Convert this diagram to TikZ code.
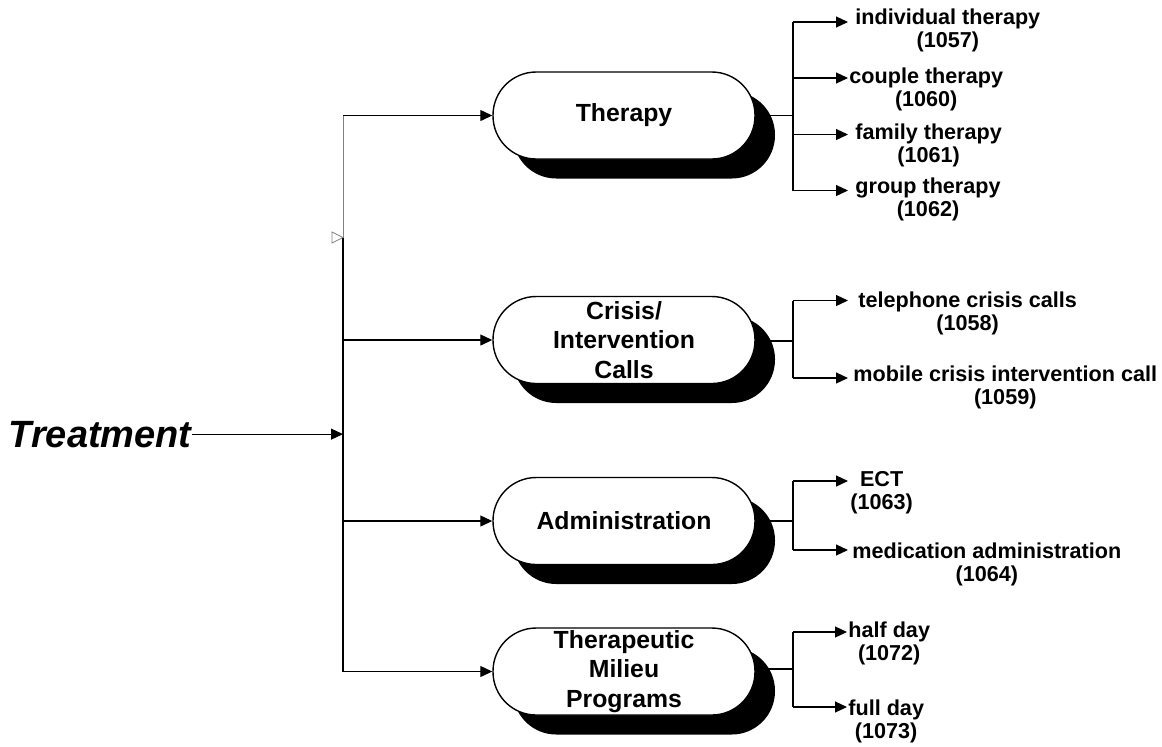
\documentclass[tikz,border=0pt]{standalone}
\usepackage{fontspec}
\setmainfont{Liberation Sans}
\usetikzlibrary{shadows,arrows.meta}

\tikzstyle{pill} = [draw, line width=0.7pt, fill=white, rounded corners=21.6pt,
    minimum width=131pt, minimum height=43.5pt, inner sep=0pt, align=center,
    font=\fontsize{12.4}{14.8}\selectfont\bfseries,
    drop shadow={shadow xshift=10pt, shadow yshift=-9.75pt, fill=black, opacity=1}]
\tikzstyle{leaf} = [anchor=base west, inner sep=0pt, align=center,
    font=\fontsize{10.8}{11.2}\selectfont\bfseries]
\tikzstyle{wire} = [line width=0.6pt]
\tikzstyle{link} = [line width=0.6pt, -{Triangle[length=6pt,width=5.5pt]}]

\begin{document}
\begin{tikzpicture}[x=0.5pt,y=-0.5pt]
\useasboundingbox (0,0) rectangle (1162,746);

% root
\node[anchor=base east, inner sep=0pt, font=\fontsize{19}{22}\selectfont\bfseries\itshape] (treat) at (192,447) {Treatment};

% the four groups
\node[pill] (therapy) at (624,115.5) {Therapy};
\node[pill] (crisis) at (624,340) {Crisis/\\Intervention\\Calls};
\node[pill] (admin) at (624,521) {Administration};
\node[pill] (milieu) at (624,671.5) {Therapeutic\\Milieu\\Programs};

% trunk
\coordinate (tTop) at (343,115.5);
\coordinate (tHook) at (343,237.5);
\coordinate (tBot) at (343,671.5);
\draw[wire, gray, line width=0.45pt] (tTop) -- (tHook);
\draw[wire, line width=1pt] (tHook) -- (tBot);
\draw[gray, line width=0.4pt] (tHook) -- ++(-11,-5.5) -- ++(0,11) -- cycle;
\draw[link] (treat.east) -- (treat -| tTop);
\draw[link] (therapy -| tTop) -- (therapy.west);
\draw[link] (crisis -| tTop) -- (crisis.west);
\draw[link] (admin -| tTop) -- (admin.west);
\draw[link] (milieu -| tTop) -- (milieu.west);

% therapy (label y = baseline of the number line)
\coordinate (fTher) at (793,115.5);
\coordinate (a1) at (848,22);
\coordinate (a2) at (848,78);
\coordinate (a3) at (848,134.5);
\coordinate (a4) at (848,190.5);
\draw[wire] (therapy.east) -- (fTher);
\draw[wire] (fTher |- a1) -- (fTher |- a4);
\draw[link] (fTher |- a1) -- (a1);
\draw[link] (fTher |- a2) -- (a2);
\draw[link] (fTher |- a3) -- (a3);
\draw[link] (fTher |- a4) -- (a4);
\node[leaf] (indiv) at (855,47) {individual therapy\\(1057)};
\node[leaf] (couple) at (849,106) {couple therapy\\(1060)};
\node[leaf] (family) at (855,162) {family therapy\\(1061)};
\node[leaf] (group) at (855,216) {group therapy\\(1062)};

% crisis
\coordinate (fCris) at (793,341);
\coordinate (b1) at (848,300.5);
\coordinate (b2) at (848,378);
\draw[wire] (fCris -| crisis.east) -- (fCris);
\draw[wire] (fCris |- b1) -- (fCris |- b2);
\draw[link] (fCris |- b1) -- (b1);
\draw[link] (fCris |- b2) -- (b2);
\node[leaf] (phone) at (858,330) {telephone crisis calls\\(1058)};
\node[leaf] (mobile) at (853,404) {mobile crisis intervention call\\(1059)};

% administration
\coordinate (fAdm) at (793,521);
\coordinate (c1) at (848,481);
\coordinate (c2) at (848,550);
\draw[wire] (admin.east) -- (fAdm);
\draw[wire] (fAdm |- c1) -- (fAdm |- c2);
\draw[link] (fAdm |- c1) -- (c1);
\draw[link] (fAdm |- c2) -- (c2);
\node[leaf] (ect) at (850,509) {ECT\\(1063)};
\node[leaf] (medic) at (852,581) {medication administration\\(1064)};

% milieu programs
\coordinate (fMil) at (793,669);
\coordinate (d1) at (847,632);
\coordinate (d2) at (847,707);
\draw[wire] (fMil -| milieu.east) -- (fMil);
\draw[wire] (fMil |- d1) -- (fMil |- d2);
\draw[link] (fMil |- d1) -- (d1);
\draw[link] (fMil |- d2) -- (d2);
\node[leaf] (half) at (848,660) {half day\\(1072)};
\node[leaf] (full) at (848,738) {full day\\(1073)};
\end{tikzpicture}
\end{document}
